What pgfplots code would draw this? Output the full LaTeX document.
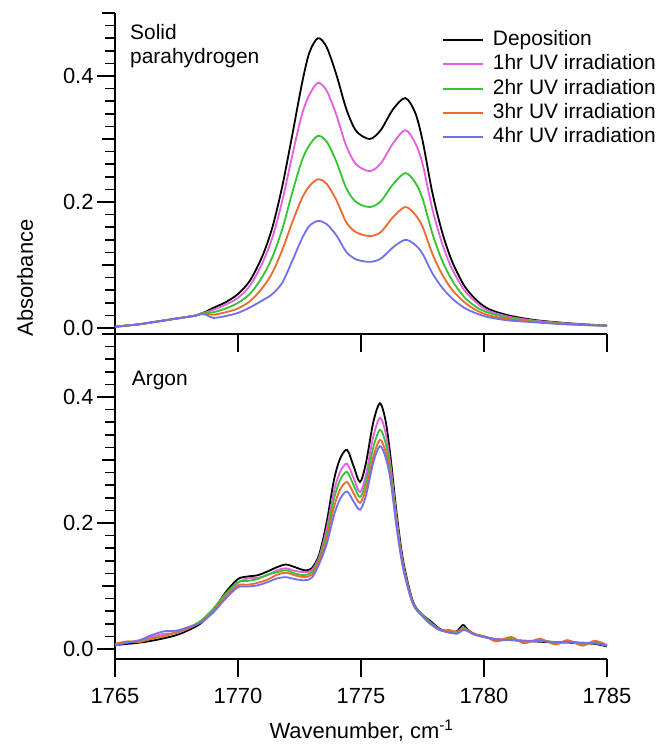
\documentclass[border=0pt]{standalone}
\usepackage{pgfplots}
\pgfplotsset{compat=1.18}
\usepackage{fontspec}
\setmainfont{Liberation Sans}
\definecolor{cpink}{RGB}{227,95,224}
\definecolor{cgreen}{RGB}{51,196,51}
\definecolor{corange}{RGB}{240,104,42}
\definecolor{cblue}{RGB}{112,112,238}
\pgfplotsset{
  panel/.style={
    scale only axis, width=492bp, xmin=1765, xmax=1785,
    axis x line=bottom, axis y line=left,
    axis line style={-, line width=2bp},
    every tick/.style={black, line width=1.6bp},
    tick align=outside,
    major tick length=18bp, minor tick length=10bp,
    xtick={1765,1770,1775,1780,1785},
    ytick={0,0.2,0.4},
    minor ytick={0.02,0.04,0.06,0.08,0.12,0.14,0.16,0.18,0.22,0.24,0.26,0.28,0.32,0.34,0.36,0.38,0.42,0.44,0.46,0.48},
    extra y ticks={0.1,0.3,0.5},
    extra y tick labels={,,},
    extra y tick style={major tick length=13bp},
    yticklabel style={/pgf/number format/.cd, fixed, fixed zerofill, precision=1},
    xticklabel style={/pgf/number format/1000 sep={}, yshift=-8bp},
    /pgf/number format/assume math mode=true,
    tick label style={font=\fontsize{22}{26}\selectfont},
  },
  crv/.style={line width=1.8bp, smooth, no markers},
}
\begin{document}
\begin{tikzpicture}
\useasboundingbox (-115bp,-85bp) rectangle (543bp,659bp);
\begin{axis}[panel, at={(0bp,325bp)}, anchor=south west, height=321bp,
  ymin=-0.0095, ymax=0.5, xticklabels={},
  legend style={draw=none, fill=none, at={(0.6646,0.9455)}, anchor=north west,
    inner sep=0pt, outer sep=0pt, font=\fontsize{21}{25}\selectfont,
    row sep=5.3bp, column sep=9bp,
    nodes={inner sep=0pt, text height=15bp, text depth=4bp}},
  legend cell align=left,
  legend image code/.code={\draw[#1, line width=2bp] (0bp,0bp) -- (40bp,0bp);},
]
\addplot[crv, black] coordinates {(1765.0,0.002)(1765.5,0.004)(1766.0,0.006)(1766.5,0.009)(1767.0,0.012)(1767.5,0.015)(1768.0,0.018)(1768.3,0.020)(1768.5,0.023)(1768.7,0.026)(1769.0,0.032)(1769.5,0.041)(1770.0,0.054)(1770.5,0.076)(1771.0,0.115)(1771.4,0.160)(1771.8,0.225)(1772.2,0.305)(1772.6,0.388)(1772.9,0.437)(1773.25,0.460)(1773.6,0.446)(1774.0,0.402)(1774.4,0.348)(1774.8,0.313)(1775.35,0.300)(1775.8,0.314)(1776.3,0.347)(1776.8,0.365)(1777.2,0.342)(1777.5,0.298)(1777.9,0.215)(1778.3,0.152)(1778.7,0.106)(1779.2,0.067)(1779.7,0.044)(1780.2,0.030)(1781.0,0.020)(1782.0,0.013)(1783.0,0.009)(1784.0,0.006)(1785.0,0.004)};
\addlegendentry{Deposition}
\addplot[crv, cpink] coordinates {(1765.0,0.002)(1765.5,0.004)(1766.0,0.006)(1766.5,0.009)(1767.0,0.012)(1767.5,0.015)(1768.0,0.018)(1768.3,0.020)(1768.5,0.023)(1768.7,0.025)(1769.0,0.029)(1769.5,0.037)(1770.0,0.048)(1770.5,0.068)(1771.0,0.104)(1771.4,0.144)(1771.8,0.202)(1772.2,0.273)(1772.6,0.339)(1772.9,0.370)(1773.25,0.389)(1773.6,0.377)(1774.0,0.338)(1774.4,0.289)(1774.8,0.260)(1775.35,0.249)(1775.8,0.261)(1776.3,0.293)(1776.8,0.314)(1777.2,0.294)(1777.5,0.261)(1777.9,0.189)(1778.3,0.134)(1778.7,0.094)(1779.2,0.060)(1779.7,0.040)(1780.2,0.027)(1781.0,0.018)(1782.0,0.012)(1783.0,0.0085)(1784.0,0.0057)(1785.0,0.0039)};
\addlegendentry{1hr UV irradiation}
\addplot[crv, cgreen] coordinates {(1765.0,0.002)(1765.5,0.004)(1766.0,0.006)(1766.5,0.009)(1767.0,0.012)(1767.5,0.015)(1768.0,0.018)(1768.3,0.020)(1768.5,0.023)(1768.7,0.024)(1769.0,0.025)(1769.5,0.031)(1770.0,0.040)(1770.5,0.055)(1771.0,0.082)(1771.4,0.113)(1771.8,0.157)(1772.2,0.214)(1772.6,0.266)(1772.9,0.290)(1773.25,0.305)(1773.6,0.296)(1774.0,0.264)(1774.4,0.222)(1774.8,0.200)(1775.35,0.192)(1775.8,0.201)(1776.3,0.228)(1776.8,0.246)(1777.2,0.231)(1777.5,0.206)(1777.9,0.150)(1778.3,0.107)(1778.7,0.076)(1779.2,0.049)(1779.7,0.033)(1780.2,0.024)(1781.0,0.016)(1782.0,0.011)(1783.0,0.0077)(1784.0,0.0054)(1785.0,0.0037)};
\addlegendentry{2hr UV irradiation}
\addplot[crv, corange] coordinates {(1765.0,0.002)(1765.5,0.004)(1766.0,0.006)(1766.5,0.009)(1767.0,0.012)(1767.5,0.015)(1768.0,0.018)(1768.3,0.020)(1768.5,0.022)(1768.7,0.023)(1769.0,0.021)(1769.5,0.025)(1770.0,0.031)(1770.5,0.043)(1771.0,0.064)(1771.4,0.088)(1771.8,0.124)(1772.2,0.167)(1772.6,0.206)(1772.9,0.225)(1773.25,0.236)(1773.6,0.229)(1774.0,0.203)(1774.4,0.168)(1774.8,0.152)(1775.35,0.146)(1775.8,0.152)(1776.3,0.176)(1776.8,0.192)(1777.2,0.180)(1777.5,0.161)(1777.9,0.118)(1778.3,0.085)(1778.7,0.061)(1779.2,0.041)(1779.7,0.028)(1780.2,0.020)(1781.0,0.014)(1782.0,0.010)(1783.0,0.0071)(1784.0,0.005)(1785.0,0.0035)};
\addlegendentry{3hr UV irradiation}
\addplot[crv, cblue] coordinates {(1765.0,0.002)(1765.5,0.004)(1766.0,0.006)(1766.5,0.009)(1767.0,0.012)(1767.5,0.015)(1768.0,0.018)(1768.3,0.020)(1768.5,0.022)(1768.7,0.021)(1769.0,0.016)(1769.5,0.019)(1770.0,0.024)(1770.5,0.033)(1771.0,0.044)(1771.4,0.054)(1771.8,0.072)(1772.2,0.106)(1772.6,0.142)(1772.9,0.162)(1773.25,0.170)(1773.6,0.165)(1774.0,0.147)(1774.4,0.121)(1774.8,0.109)(1775.35,0.105)(1775.8,0.110)(1776.3,0.128)(1776.8,0.140)(1777.2,0.132)(1777.5,0.118)(1777.9,0.087)(1778.3,0.064)(1778.7,0.047)(1779.2,0.032)(1779.7,0.023)(1780.2,0.017)(1781.0,0.012)(1782.0,0.0092)(1783.0,0.0065)(1784.0,0.0047)(1785.0,0.0034)};
\addlegendentry{4hr UV irradiation}
\end{axis}
\begin{axis}[panel, at={(0bp,0bp)}, anchor=south west, height=325bp,
  ymin=-0.016, ymax=0.5]
\addplot[crv, black] coordinates {(1765.0,0.006)(1765.5,0.008)(1766.0,0.010)(1766.5,0.013)(1767.0,0.017)(1767.5,0.022)(1768.0,0.030)(1768.5,0.041)(1769.0,0.062)(1769.5,0.090)(1770.0,0.111)(1770.4,0.115)(1770.8,0.117)(1771.2,0.123)(1771.6,0.130)(1771.95,0.134)(1772.3,0.130)(1772.7,0.125)(1773.0,0.128)(1773.3,0.150)(1773.6,0.200)(1773.9,0.268)(1774.15,0.302)(1774.43,0.316)(1774.7,0.290)(1774.96,0.265)(1775.2,0.295)(1775.5,0.360)(1775.77,0.390)(1776.0,0.362)(1776.2,0.305)(1776.45,0.215)(1776.7,0.143)(1777.0,0.090)(1777.2,0.068)(1777.5,0.054)(1777.8,0.045)(1778.2,0.032)(1778.6,0.026)(1778.9,0.028)(1779.15,0.038)(1779.35,0.030)(1779.6,0.024)(1780.1,0.018)(1780.6,0.015)(1781.1,0.014)(1781.6,0.013)(1782.0,0.012)(1782.5,0.011)(1783.0,0.0105)(1783.5,0.010)(1784.0,0.009)(1784.5,0.008)(1785.0,0.004)};
\addplot[crv, cpink] coordinates {(1765.0,0.007)(1765.5,0.010)(1766.0,0.013)(1766.5,0.019)(1767.0,0.024)(1767.5,0.025)(1768.0,0.033)(1768.5,0.044)(1769.0,0.060)(1769.5,0.085)(1770.0,0.105)(1770.4,0.112)(1770.8,0.113)(1771.2,0.117)(1771.6,0.125)(1771.95,0.128)(1772.3,0.124)(1772.7,0.122)(1773.0,0.125)(1773.3,0.146)(1773.6,0.190)(1773.9,0.250)(1774.15,0.281)(1774.43,0.294)(1774.7,0.271)(1774.96,0.249)(1775.2,0.276)(1775.5,0.337)(1775.77,0.367)(1776.0,0.343)(1776.2,0.292)(1776.45,0.207)(1776.7,0.138)(1777.0,0.088)(1777.2,0.067)(1777.5,0.054)(1777.8,0.043)(1778.2,0.031)(1778.6,0.027)(1778.9,0.027)(1779.15,0.034)(1779.35,0.029)(1779.6,0.023)(1780.1,0.018)(1780.6,0.015)(1781.1,0.015)(1781.6,0.012)(1782.0,0.012)(1782.5,0.012)(1783.0,0.010)(1783.5,0.011)(1784.0,0.009)(1784.5,0.009)(1785.0,0.005)};
\addplot[crv, cgreen] coordinates {(1765.0,0.005)(1765.5,0.011)(1766.0,0.012)(1766.5,0.016)(1767.0,0.021)(1767.5,0.026)(1768.0,0.034)(1768.5,0.045)(1769.0,0.064)(1769.5,0.088)(1770.0,0.106)(1770.4,0.108)(1770.8,0.111)(1771.2,0.118)(1771.6,0.122)(1771.95,0.125)(1772.3,0.120)(1772.7,0.117)(1773.0,0.122)(1773.3,0.143)(1773.6,0.182)(1773.9,0.238)(1774.15,0.268)(1774.43,0.281)(1774.7,0.260)(1774.96,0.241)(1775.2,0.265)(1775.5,0.320)(1775.77,0.348)(1776.0,0.327)(1776.2,0.283)(1776.45,0.201)(1776.7,0.135)(1777.0,0.086)(1777.2,0.066)(1777.5,0.053)(1777.8,0.042)(1778.2,0.031)(1778.6,0.028)(1778.9,0.026)(1779.15,0.033)(1779.35,0.029)(1779.6,0.023)(1780.1,0.019)(1780.6,0.013)(1781.1,0.016)(1781.6,0.011)(1782.0,0.013)(1782.5,0.013)(1783.0,0.009)(1783.5,0.012)(1784.0,0.008)(1784.5,0.010)(1785.0,0.005)};
\addplot[crv, corange] coordinates {(1765.0,0.008)(1765.5,0.012)(1766.0,0.011)(1766.5,0.017)(1767.0,0.020)(1767.5,0.027)(1768.0,0.033)(1768.5,0.043)(1769.0,0.060)(1769.5,0.083)(1770.0,0.101)(1770.4,0.102)(1770.8,0.105)(1771.2,0.110)(1771.6,0.118)(1771.95,0.121)(1772.3,0.117)(1772.7,0.114)(1773.0,0.118)(1773.3,0.139)(1773.6,0.174)(1773.9,0.225)(1774.15,0.253)(1774.43,0.265)(1774.7,0.247)(1774.96,0.232)(1775.2,0.254)(1775.5,0.305)(1775.77,0.332)(1776.0,0.313)(1776.2,0.274)(1776.45,0.196)(1776.7,0.132)(1777.0,0.085)(1777.2,0.065)(1777.5,0.052)(1777.8,0.040)(1778.2,0.030)(1778.6,0.030)(1778.9,0.027)(1779.15,0.031)(1779.35,0.029)(1779.6,0.024)(1780.1,0.019)(1780.5,0.012)(1781.1,0.019)(1781.6,0.009)(1782.0,0.013)(1782.3,0.016)(1782.9,0.007)(1783.4,0.014)(1784.0,0.005)(1784.5,0.013)(1785.0,0.006)};
\addplot[crv, cblue] coordinates {(1765.0,0.006)(1765.5,0.010)(1766.0,0.014)(1766.5,0.022)(1767.0,0.028)(1767.5,0.029)(1768.0,0.035)(1768.5,0.042)(1769.0,0.058)(1769.5,0.080)(1770.0,0.098)(1770.4,0.099)(1770.8,0.101)(1771.2,0.106)(1771.6,0.112)(1771.95,0.114)(1772.3,0.111)(1772.7,0.109)(1773.0,0.113)(1773.3,0.135)(1773.6,0.166)(1773.9,0.212)(1774.15,0.238)(1774.43,0.250)(1774.7,0.234)(1774.96,0.221)(1775.2,0.243)(1775.5,0.296)(1775.77,0.322)(1776.0,0.304)(1776.2,0.268)(1776.45,0.192)(1776.7,0.130)(1777.0,0.084)(1777.2,0.065)(1777.5,0.052)(1777.8,0.041)(1778.2,0.030)(1778.6,0.026)(1778.9,0.024)(1779.15,0.030)(1779.35,0.028)(1779.6,0.023)(1780.1,0.018)(1780.6,0.015)(1781.1,0.014)(1781.6,0.013)(1782.0,0.013)(1782.5,0.012)(1783.0,0.011)(1783.5,0.011)(1784.0,0.010)(1784.5,0.009)(1785.0,0.006)};
\end{axis}
\node[anchor=base west, inner sep=0pt, font=\fontsize{21}{25}\selectfont] at (15bp,619.5bp) {Solid};
\node[anchor=base west, inner sep=0pt, font=\fontsize{21}{25}\selectfont] at (15bp,595.7bp) {parahydrogen};
\node[anchor=base west, inner sep=0pt, font=\fontsize{21}{25}\selectfont] at (16.7bp,273.3bp) {Argon};
\node[rotate=90, anchor=base, inner sep=0pt, font=\fontsize{22}{26}\selectfont] at (-82bp,381bp) {Absorbance};
\node[anchor=base, inner sep=0pt, font=\fontsize{22}{26}\selectfont] at (246.5bp,-79bp) {Wavenumber, cm\textsuperscript{-1}};
\end{tikzpicture}
\end{document}
